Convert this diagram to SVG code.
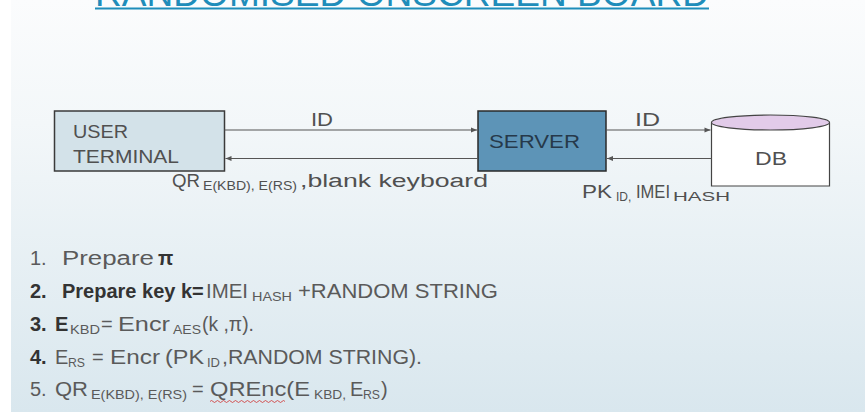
<svg xmlns="http://www.w3.org/2000/svg" width="865" height="412" viewBox="0 0 865 412">
<defs>
<linearGradient id="bg" x1="0" y1="0" x2="0" y2="1">
<stop offset="0" stop-color="#fbfcfd"/>
<stop offset="0.3" stop-color="#f3f7f9"/>
<stop offset="1" stop-color="#d9e7ee"/>
</linearGradient>
<marker id="ah" viewBox="0 0 10 10" refX="10" refY="5" markerWidth="7" markerHeight="6" orient="auto" markerUnits="userSpaceOnUse">
<path d="M0,1 L10,5 L0,9 z" fill="#555"/>
</marker>
<style>
.t{font-family:"Liberation Sans",Arial,sans-serif;}
.lbl{font-family:"Liberation Sans",Arial,sans-serif;font-size:18px;fill:#505050;}
.sub{font-size:12px;}
.li{font-family:"Liberation Sans",Arial,sans-serif;font-size:20px;fill:#5a5a5a;}
.ls{font-size:13px;}
.b{font-weight:bold;fill:#333;}
.conn{stroke:#555;stroke-width:1.2;fill:none;marker-end:url(#ah);}
</style>
</defs>
<rect x="0" y="0" width="865" height="412" fill="#ffffff"/>
<rect x="11" y="0" width="854" height="412" fill="url(#bg)"/>

<g id="title">
<text class="t" x="95" y="6" font-size="37" fill="#1f8dba" textLength="614" lengthAdjust="spacingAndGlyphs">RANDOMISED ONSCREEN BOARD</text>
<line x1="95" y1="8.5" x2="709" y2="8.5" stroke="#1f8dba" stroke-width="2"/>
</g>

<g id="user-terminal">
<rect x="54.5" y="111" width="170" height="60" fill="#d3e2e9" stroke="#3a3a3a" stroke-width="1.5"/>
<text class="lbl" x="73" y="138" fill="#444" textLength="55" lengthAdjust="spacingAndGlyphs">USER</text>
<text class="lbl" x="73" y="163" fill="#444" textLength="106" lengthAdjust="spacingAndGlyphs">TERMINAL</text>
</g>

<g id="server">
<rect x="478" y="111" width="128" height="60" fill="#5d94b7" stroke="#2a2a2a" stroke-width="1.5"/>
<text class="lbl" x="489" y="148" style="fill:#26394a" textLength="91" lengthAdjust="spacingAndGlyphs">SERVER</text>
</g>

<g id="db">
<path d="M711.5,122.5 L711.5,186 L829.5,186 L829.5,122.5" fill="#ffffff" stroke="#444" stroke-width="1.2"/>
<ellipse cx="770.5" cy="122.5" rx="59" ry="7.5" fill="#e2cbe9" stroke="#444" stroke-width="1.2"/>
<text class="lbl" x="755" y="165" fill="#444" textLength="32" lengthAdjust="spacingAndGlyphs">DB</text>
</g>

<g id="connectors">
<line class="conn" x1="224.5" y1="130" x2="477" y2="130"/>
<line class="conn" x1="478" y1="158.5" x2="225.5" y2="158.5"/>
<line class="conn" x1="606" y1="130" x2="710.5" y2="130"/>
<line class="conn" x1="711.5" y1="158.5" x2="607" y2="158.5"/>
</g>

<g id="connector-labels">
<text class="lbl" x="311" y="126" textLength="22" lengthAdjust="spacingAndGlyphs">ID</text>
<text class="lbl" x="635" y="126" textLength="25" lengthAdjust="spacingAndGlyphs">ID</text>
<text class="lbl" y="187"><tspan x="172" textLength="28" lengthAdjust="spacingAndGlyphs">QR</tspan><tspan class="sub" x="203" y="190" textLength="94" lengthAdjust="spacingAndGlyphs">E(KBD), E(RS)</tspan><tspan x="300" y="187" textLength="188" lengthAdjust="spacingAndGlyphs">,blank keyboard</tspan></text>
<text class="lbl" y="198"><tspan x="582" textLength="30" lengthAdjust="spacingAndGlyphs">PK</tspan><tspan class="sub" x="616" y="201">ID,</tspan><tspan x="636" y="198" textLength="34" lengthAdjust="spacingAndGlyphs">IMEI</tspan><tspan class="sub" x="673" y="201" textLength="57" lengthAdjust="spacingAndGlyphs">HASH</tspan></text>
</g>

<g id="steps">
<text class="li" y="265"><tspan x="30">1.</tspan><tspan x="62" textLength="92" lengthAdjust="spacingAndGlyphs">Prepare</tspan><tspan class="b" x="158">π</tspan></text>
<text class="li" y="298"><tspan class="b" x="30">2.</tspan><tspan class="b" x="62">Prepare key k=</tspan><tspan x="206" textLength="42" lengthAdjust="spacingAndGlyphs">IMEI</tspan><tspan class="ls" x="252" y="301" textLength="40" lengthAdjust="spacingAndGlyphs">HASH</tspan><tspan x="298" y="298" textLength="200" lengthAdjust="spacingAndGlyphs">+RANDOM STRING</tspan></text>
<text class="li" y="331"><tspan class="b" x="30">3.</tspan><tspan class="b" x="55">E</tspan><tspan class="ls" x="70" y="334" textLength="30" lengthAdjust="spacingAndGlyphs">KBD</tspan><tspan x="101" y="331">=</tspan><tspan x="118" textLength="52" lengthAdjust="spacingAndGlyphs">Encr</tspan><tspan class="ls" x="173" y="334" textLength="28" lengthAdjust="spacingAndGlyphs">AES</tspan><tspan x="202" y="331" textLength="52" lengthAdjust="spacingAndGlyphs">(k ,π).</tspan></text>
<text class="li" y="364"><tspan class="b" x="30">4.</tspan><tspan x="55">E</tspan><tspan class="ls" x="68" y="367" textLength="17" lengthAdjust="spacingAndGlyphs">RS</tspan><tspan x="92" y="364">=</tspan><tspan x="110" textLength="50" lengthAdjust="spacingAndGlyphs">Encr</tspan><tspan x="165" textLength="39" lengthAdjust="spacingAndGlyphs">(PK</tspan><tspan class="ls" x="207" y="367" textLength="13" lengthAdjust="spacingAndGlyphs">ID</tspan><tspan x="222" y="364" textLength="200" lengthAdjust="spacingAndGlyphs">,RANDOM STRING).</tspan></text>
<text class="li" y="396"><tspan x="30">5.</tspan><tspan x="55" textLength="33" lengthAdjust="spacingAndGlyphs">QR</tspan><tspan class="ls" x="91" y="399" textLength="96" lengthAdjust="spacingAndGlyphs">E(KBD), E(RS)</tspan><tspan x="192" y="396">=</tspan><tspan x="210" textLength="100" lengthAdjust="spacingAndGlyphs">QREnc(E</tspan><tspan class="ls" x="314" y="399" textLength="32" lengthAdjust="spacingAndGlyphs">KBD,</tspan><tspan x="350" y="396">E</tspan><tspan class="ls" x="363" y="399" textLength="17" lengthAdjust="spacingAndGlyphs">RS</tspan><tspan x="381" y="396">)</tspan></text>
<path d="M210,401.5 q1.5,-2 3,0 t3,0 t3,0 t3,0 t3,0 t3,0 t3,0 t3,0 t3,0 t3,0 t3,0 t3,0 t3,0 t3,0 t3,0 t3,0 t3,0 t3,0 t3,0 t3,0 t3,0 t3,0 t3,0 t3,0 t3,0" fill="none" stroke="#d03030" stroke-width="0.8"/>
</g>
</svg>
